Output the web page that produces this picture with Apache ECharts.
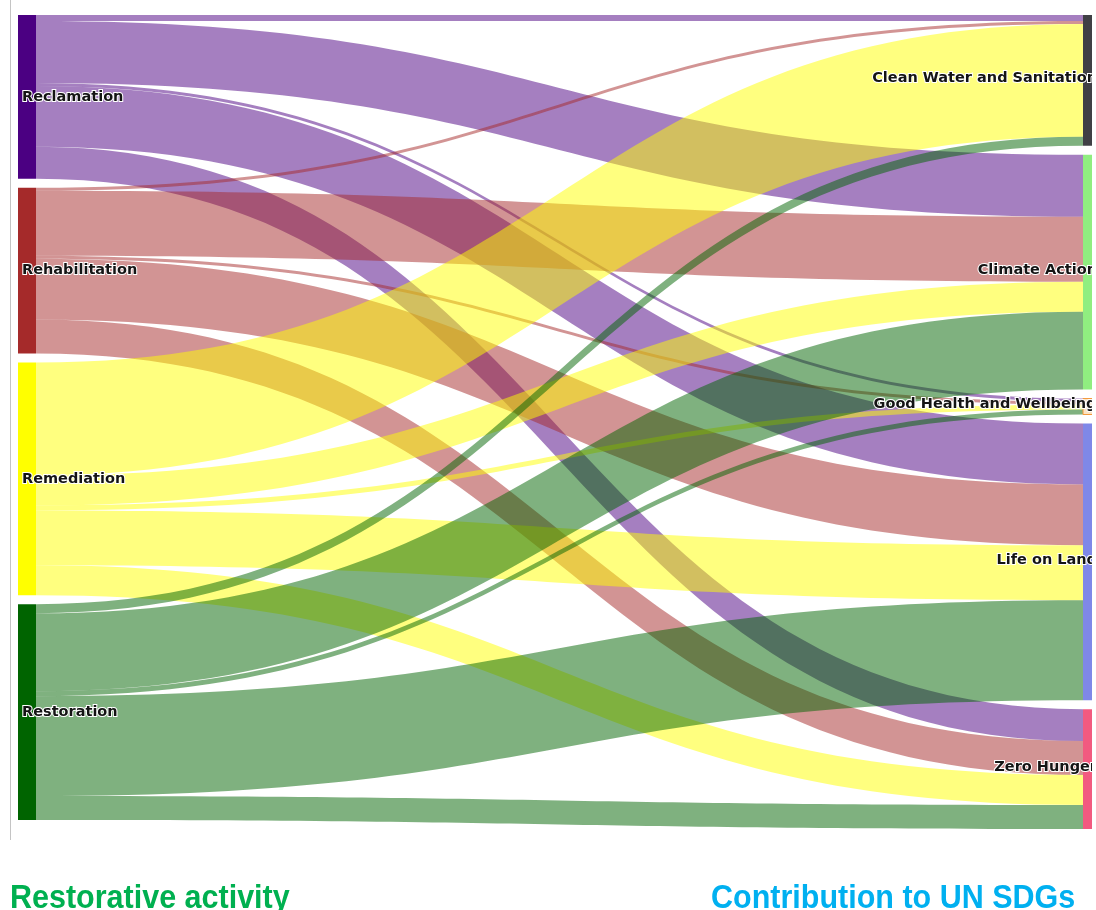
<!DOCTYPE html>
<html>
<head>
<meta charset="utf-8">
<title>Restorative activity and UN SDGs</title>
<script src="https://cdn.jsdelivr.net/npm/echarts@6/dist/echarts.min.js"></script>
<style>
  html, body { margin: 0; padding: 0; background: #ffffff; }
  #chart { width: 1096px; height: 910px; }
</style>
</head>
<body>
<div id="chart"></div>
<script>
// Restorative activities (left column) and the SDGs they contribute to (right column)
const activities = ['Reclamation', 'Rehabilitation', 'Remediation', 'Restoration'];
const activityColors = ['#4b0082', '#a52a2a', '#ffff00', '#006400'];

const sdgs = ['Clean Water and Sanitation', 'Climate Action', 'Good Health and Wellbeing', 'Life on Land', 'Zero Hunger'];
const sdgColors = ['#404045', '#90ee80', '#fbe3c4', '#7f88e8', '#f25a80'];

// Flow size from each activity to each SDG (same order as sdgs)
const reclamationFlows    = [6, 62, 3, 61, 32];
const rehabilitationFlows = [3, 65, 3, 61, 34];
const remediationFlows    = [113, 30, 5, 55, 30];
const restorationFlows    = [9, 78, 5, 100, 24];
const flowsByActivity = [reclamationFlows, rehabilitationFlows, remediationFlows, restorationFlows];

const leftTitle = 'Restorative activity';
const rightTitle = 'Contribution to UN SDGs';

const labelBase = {
  show: true,
  fontFamily: 'DejaVu Sans',
  fontSize: 14.5,
  fontWeight: 'bold',
  color: '#141414',
  textBorderColor: '#ffffff',
  textBorderWidth: 2
};

const nodes = [];
activities.forEach((name, i) => {
  nodes.push({
    name: name,
    depth: 0,
    itemStyle: { color: activityColors[i] },
    label: Object.assign({}, labelBase, { position: 'insideLeft', distance: 4, offset: [0, 0] })
  });
});
sdgs.forEach((name, i) => {
  const item = {
    name: name,
    depth: 1,
    itemStyle: { color: sdgColors[i] },
    label: Object.assign({}, labelBase, { position: 'left', distance: -14, offset: [0, -2] })
  };
  if (name === 'Good Health and Wellbeing') {
    item.itemStyle = { color: sdgColors[i], borderColor: '#f39a3c', borderWidth: 1 };
  }
  nodes.push(item);
});

const links = [];
activities.forEach((src, i) => {
  sdgs.forEach((tgt, j) => {
    links.push({ source: src, target: tgt, value: flowsByActivity[i][j] });
  });
});

const chart = echarts.init(document.getElementById('chart'), null, { renderer: 'canvas' });

const titleFont = 'bold 30.5px "Liberation Sans", Arial, sans-serif';

chart.setOption({
  backgroundColor: '#ffffff',
  animation: false,
  series: [{
    type: 'sankey',
    left: 18,
    right: -5,
    top: 15,
    bottom: 81,
    nodeWidth: 18,
    nodeGap: 9,
    nodeAlign: 'justify',
    layoutIterations: 0,
    draggable: false,
    emphasis: { disabled: true },
    data: nodes,
    links: links,
    lineStyle: { color: 'source', opacity: 0.5, curveness: 0.5 },
    itemStyle: { borderWidth: 0 }
  }],
  graphic: [
    // thin frame line along the left side
    { type: 'line', z: 0, shape: { x1: 10.5, y1: 0, x2: 10.5, y2: 840 }, style: { stroke: '#c4c4c4', lineWidth: 1 } },
    // the drawing area stops short of the page edge on the right
    { type: 'rect', z: 100, shape: { x: 1092, y: 0, width: 10, height: 850 }, style: { fill: '#ffffff' } },
    {
      type: 'text', z: 100, x: 10, y: 882, scaleY: 1.1,
      style: { text: leftTitle, fill: '#00b050', font: titleFont, textVerticalAlign: 'top' }
    },
    {
      type: 'text', z: 100, x: 711, y: 882, scaleY: 1.1,
      style: { text: rightTitle, fill: '#00b0f0', font: titleFont, textVerticalAlign: 'top' }
    }
  ]
});
</script>
</body>
</html>
